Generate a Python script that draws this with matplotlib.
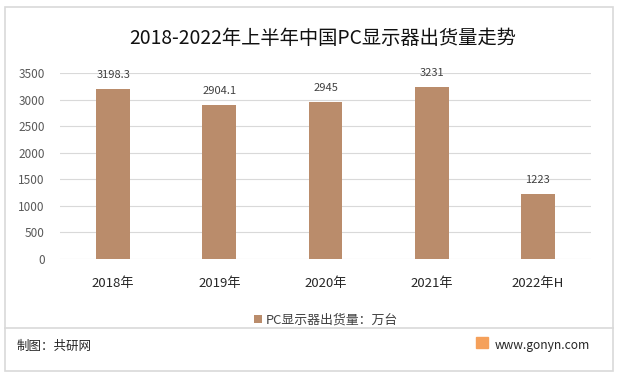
import matplotlib.pyplot as plt
from matplotlib.patches import Rectangle

plt.rcParams['font.family'] = ['Noto Sans CJK SC', 'DejaVu Sans']

categories = ['2018年', '2019年', '2020年', '2021年', '2022年H']
shipments = [3198.3, 2904.1, 2945, 3231, 1223]
value_labels = ['3198.3', '2904.1', '2945', '3231', '1223']
yticks = [0, 500, 1000, 1500, 2000, 2500, 3000, 3500]

bar_color = '#BA8C6B'


def main():
    fig = plt.figure(figsize=(6.19, 3.79), dpi=100)
    fig.patch.set_facecolor('white')

    # outer frame and footer divider
    fig.patches.append(Rectangle((5 / 619, 8 / 379), 608 / 619, 364 / 379, transform=fig.transFigure,
                                 fill=False, edgecolor='#D9D9D9', linewidth=1.2))
    fig.add_artist(plt.Line2D([5 / 619, 613 / 619], [1 - 328 / 379, 1 - 328 / 379],
                              transform=fig.transFigure, color='#D9D9D9', linewidth=1.2))

    ax = fig.add_axes([60 / 619, 1 - 259 / 379, 531 / 619, 186 / 379])
    x = range(len(categories))
    bars = ax.bar(x, shipments, width=0.32, color=bar_color, label='PC显示器出货量：万台', zorder=3)
    for b, t in zip(bars, value_labels):
        ax.text(b.get_x() + b.get_width() / 2, b.get_height() + 170, t,
                ha='center', va='bottom', fontsize=8, color='#404040')

    ax.set_xlim(-0.5, len(categories) - 0.5)
    ax.set_ylim(0, 3500)
    ax.set_yticks(yticks)
    ax.set_yticklabels([str(v) for v in yticks], fontsize=8.5, color='#595959')
    ax.set_xticks(list(x))
    ax.set_xticklabels(categories, fontsize=9.5, color='#262626')
    ax.tick_params(axis='both', length=0)
    ax.tick_params(axis='y', pad=11)
    ax.tick_params(axis='x', pad=13)
    ax.grid(axis='y', color='#D9D9D9', linewidth=0.8, zorder=0)
    for s in ax.spines.values():
        s.set_visible(False)

    fig.text(323 / 619, 1 - 38 / 379, '2018-2022年上半年中国PC显示器出货量走势',
             ha='center', va='center', fontsize=13.9, color='#111111')

    fig.legend(loc='center', bbox_to_anchor=(326 / 619, 1 - 320 / 379), frameon=False,
               fontsize=9.3, handlelength=0.6, handleheight=0.6, handletextpad=0.3,
               labelcolor='#404040')

    fig.text(17 / 619, 1 - 346 / 379, '制图：共研网', ha='left', va='center',
             fontsize=9, color='#262626')
    fig.patches.append(Rectangle((476 / 619, 1 - 348 / 379), 12 / 619, 11 / 379,
                                 transform=fig.transFigure, color='#F5A05A'))
    fig.text(590 / 619, 1 - 345 / 379, 'www.gonyn.com', ha='right', va='center',
             fontsize=8.7, color='#262626')

    fig.savefig('out.png', dpi=100)


if __name__ == '__main__':
    main()
